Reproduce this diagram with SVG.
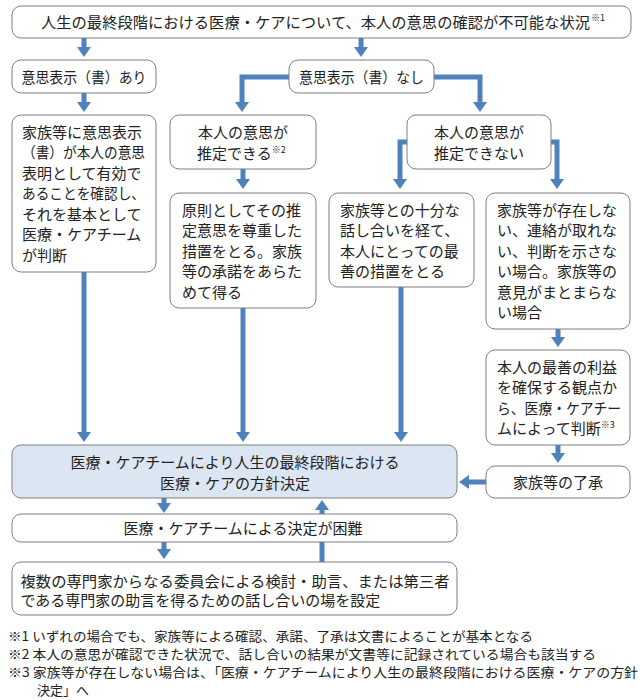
<svg xmlns="http://www.w3.org/2000/svg" width="640" height="700" viewBox="0 0 640 700">
<defs>
<style>
.bx{fill:#fff;stroke:#7f7f7f;stroke-width:1}
.main{fill:#dce6f2;stroke:#7f7f7f;stroke-width:1}
text{font-family:"Noto Sans CJK JP","Noto Sans CJK SC",sans-serif;font-size:15px;fill:#222}
.c{text-anchor:middle}
.sup{font-size:9px}
.fn{font-size:13px}
.cn{fill:none;stroke:#4f81bd;stroke-width:5;marker-end:url(#ah)}
</style>
<marker id="ah" markerUnits="userSpaceOnUse" markerWidth="10" markerHeight="14" viewBox="0 0 10 14" refX="2" refY="7" orient="auto">
<path d="M0,0 L10,7 L0,14 Z" fill="#4f81bd"/>
</marker>
</defs>
<rect width="640" height="700" fill="#fff"/>
<g id="connectors">
<path class="cn" d="M84,38 V49"/>
<path class="cn" d="M361,38 V49"/>
<path class="cn" d="M289,77 H242 V104"/>
<path class="cn" d="M434,77 H480 V104"/>
<path class="cn" d="M84,93 V104"/>
<path class="cn" d="M243,169 V181"/>
<path class="cn" d="M407,142 H400 V181"/>
<path class="cn" d="M551,142 H557 V181"/>
<path class="cn" d="M558,329 V339"/>
<path class="cn" d="M84,272 V434"/>
<path class="cn" d="M243,308 V434"/>
<path class="cn" d="M401,287 V434"/>
<path class="cn" d="M558,445 V455"/>
<path class="cn" d="M486,482 H467"/>
<path class="cn" d="M164,498 V505"/>
<path class="cn" d="M164,542 V551"/>
<path class="cn" d="M322,562 V508"/>
</g>
<g id="n-top">
<rect class="bx" x="12" y="6" width="619" height="32" rx="9"/>
<text x="41" y="27.5" textLength="549" lengthAdjust="spacingAndGlyphs">人生の最終段階における医療・ケアについて、本人の意思の確認が不可能な状況</text>
<text class="sup" x="591" y="21">※1</text>
</g>
<g id="n-ari">
<rect class="bx" x="12" y="60" width="144" height="33" rx="9"/>
<text class="c" x="84" y="82.5" textLength="125" lengthAdjust="spacingAndGlyphs">意思表示（書）あり</text>
</g>
<g id="n-nashi">
<rect class="bx" x="289" y="60" width="145" height="33" rx="9"/>
<text class="c" x="361.5" y="82.5" textLength="125" lengthAdjust="spacingAndGlyphs">意思表示（書）なし</text>
</g>
<g id="n-family-confirm">
<rect class="bx" x="12" y="115" width="144" height="157" rx="9"/>
<text x="22" y="137.5">家族等に意思表示</text>
<text x="22" y="158" textLength="123" lengthAdjust="spacingAndGlyphs">（書）が本人の意思</text>
<text x="22" y="178.5">表明として有効で</text>
<text x="22" y="199" textLength="123" lengthAdjust="spacingAndGlyphs">あることを確認し、</text>
<text x="22" y="219.5">それを基本として</text>
<text x="22" y="240">医療・ケアチーム</text>
<text x="22" y="260.5">が判断</text>
</g>
<g id="n-estimable">
<rect class="bx" x="170" y="115" width="146" height="54" rx="9"/>
<text class="c" x="243" y="137.5">本人の意思が</text>
<text x="197" y="158.5">推定できる<tspan class="sup" dy="-6">※2</tspan></text>
</g>
<g id="n-not-estimable">
<rect class="bx" x="407" y="115" width="144" height="54" rx="9"/>
<text class="c" x="479" y="137.5">本人の意思が</text>
<text class="c" x="479" y="158.5">推定できない</text>
</g>
<g id="n-respect">
<rect class="bx" x="170" y="193" width="146" height="115" rx="9"/>
<text x="182" y="215.5">原則としてその推</text>
<text x="182" y="236">定意思を尊重した</text>
<text x="182" y="256.5">措置をとる。家族</text>
<text x="182" y="277">等の承諾をあらた</text>
<text x="182" y="297.5">めて得る</text>
</g>
<g id="n-discuss">
<rect class="bx" x="329" y="193" width="145" height="94" rx="9"/>
<text x="340" y="215.5">家族等との十分な</text>
<text x="340" y="236">話し合いを経て、</text>
<text x="340" y="256.5">本人にとっての最</text>
<text x="340" y="277">善の措置をとる</text>
</g>
<g id="n-no-family">
<rect class="bx" x="486" y="193" width="144" height="136" rx="9"/>
<text x="497" y="215.5">家族等が存在しな</text>
<text x="497" y="236">い、連絡が取れな</text>
<text x="497" y="256.5">い、判断を示さな</text>
<text x="497" y="277">い場合。家族等の</text>
<text x="497" y="297.5">意見がまとまらな</text>
<text x="497" y="318">い場合</text>
</g>
<g id="n-best-interest">
<rect class="bx" x="486" y="350" width="144" height="95" rx="9"/>
<text x="497" y="372.5">本人の最善の利益</text>
<text x="497" y="393">を確保する観点か</text>
<text x="497" y="413.5" textLength="124" lengthAdjust="spacingAndGlyphs">ら、医療・ケアチー</text>
<text x="497" y="434">ムによって判断<tspan class="sup" dy="-6">※3</tspan></text>
</g>
<g id="n-consent">
<rect class="bx" x="486" y="466" width="144" height="32" rx="9"/>
<text class="c" x="558" y="487.5">家族等の了承</text>
</g>
<g id="n-decision">
<rect class="main" x="12" y="445" width="445" height="53" rx="9"/>
<text class="c" x="235" y="467.5">医療・ケアチームにより人生の最終段階における</text>
<text class="c" x="235" y="488.5">医療・ケアの方針決定</text>
</g>
<g id="n-difficult">
<rect class="bx" x="12" y="514" width="445" height="28" rx="9"/>
<text class="c" x="243" y="533.5">医療・ケアチームによる決定が困難</text>
</g>
<g id="n-committee">
<rect class="bx" x="12" y="562" width="445" height="53" rx="9"/>
<text x="20.5" y="587" textLength="429" lengthAdjust="spacingAndGlyphs">複数の専門家からなる委員会による検討・助言、または第三者</text>
<text x="20.5" y="606">である専門家の助言を得るための話し合いの場を設定</text>
</g>
<g id="footnotes">
<text class="fn" x="8" y="641" textLength="525" lengthAdjust="spacingAndGlyphs">※1 いずれの場合でも、家族等による確認、承諾、了承は文書によることが基本となる</text>
<text class="fn" x="8" y="659" textLength="588" lengthAdjust="spacingAndGlyphs">※2 本人の意思が確認できた状況で、話し合いの結果が文書等に記録されている場合も該当する</text>
<text class="fn" x="8" y="677" textLength="630" lengthAdjust="spacingAndGlyphs">※3 家族等が存在しない場合は、「医療・ケアチームにより人生の最終段階における医療・ケアの方針</text>
<text class="fn" x="37" y="695">決定」へ</text>
</g>
</svg>
